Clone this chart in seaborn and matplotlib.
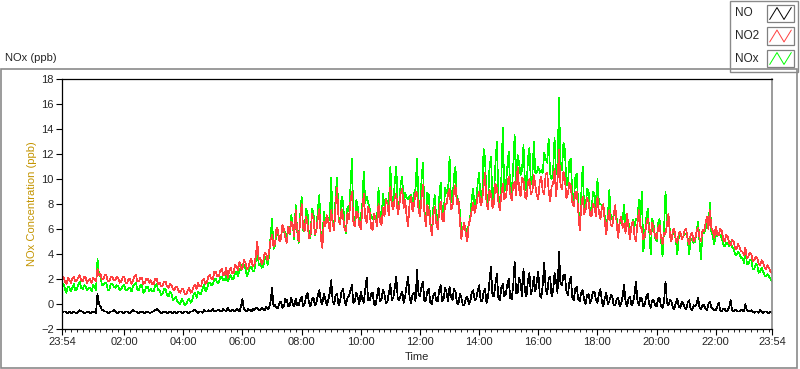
import matplotlib
matplotlib.use('Agg')
import matplotlib.pyplot as plt
import numpy as np
import pandas as pd
import seaborn as sns
from matplotlib.lines import Line2D
from matplotlib.patches import Rectangle

# 3-minute samples, each row = one hour starting 23:54, 00:54, 01:54 ...
no2_ppb = [
    2.0, 2.2, 1.8, 1.6, 2.1, 1.9, 1.7, 2.0, 2.2, 1.8, 1.9, 2.1, 2.3, 1.9, 1.8, 2.2, 2.1, 1.7, 1.9, 2.0,
    1.7, 2.1, 2.0, 1.8, 2.8, 2.3, 2.4, 2.0, 2.0, 2.3, 2.3, 1.8, 1.8, 2.2, 2.2, 1.9, 1.9, 2.2, 2.1, 1.7,
    1.8, 2.1, 2.2, 1.7, 1.7, 2.0, 2.0, 1.6, 1.9, 2.2, 2.3, 1.8, 1.8, 2.1, 2.1, 1.6, 1.7, 2.0, 2.0, 1.7,
    1.9, 1.6, 1.6, 2.0, 2.0, 1.6, 1.7, 1.4, 1.5, 1.8, 1.8, 1.4, 1.3, 1.6, 1.5, 1.2, 1.1, 1.4, 1.3, 1.0,
    0.9, 1.2, 1.2, 0.8, 0.8, 1.1, 1.3, 0.9, 1.0, 1.4, 1.5, 1.2, 1.7, 1.4, 1.4, 1.9, 2.0, 1.6, 1.8, 2.2,
    2.3, 2.0, 2.0, 2.6, 2.6, 2.2, 2.2, 2.7, 2.8, 2.3, 2.4, 2.9, 2.1, 2.6, 2.9, 2.5, 2.5, 3.1, 3.0, 2.7,
    3.4, 2.9, 2.8, 3.5, 3.3, 2.8, 2.9, 3.4, 3.6, 3.0, 3.1, 3.8, 5.0, 3.6, 3.7, 3.2, 3.4, 4.1, 4.0, 3.5,
    4.2, 5.1, 5.5, 4.6, 4.8, 6.1, 5.9, 5.0, 5.2, 6.3, 6.0, 5.3, 4.9, 6.2, 5.7, 6.6, 6.3, 5.4, 7.5, 5.9,
    5.0, 6.7, 8.0, 6.1, 5.8, 7.0, 6.4, 5.3, 5.5, 7.2, 6.8, 5.6, 5.9, 6.9, 7.6, 5.2, 4.5, 6.6, 6.2, 7.1,
    6.6, 5.8, 7.5, 6.4, 5.9, 8.0, 9.3, 6.7, 6.4, 7.6, 7.0, 6.0, 5.8, 7.3, 6.8, 8.2, 9.0, 6.5, 6.2, 7.4,
    7.2, 6.3, 6.0, 7.5, 8.8, 6.9, 6.5, 7.8, 7.3, 6.1, 5.9, 7.2, 6.8, 6.2, 8.0, 6.6, 6.3, 7.7, 7.0, 8.3,
    8.0, 7.1, 9.4, 7.9, 7.6, 8.5, 8.8, 7.2, 7.8, 8.9, 9.2, 7.7, 8.3, 7.0, 6.2, 8.1, 8.6, 7.4, 7.9, 9.0,
    8.9, 7.6, 7.0, 8.4, 9.5, 7.3, 6.2, 7.9, 7.5, 6.4, 5.5, 7.0, 7.8, 6.5, 6.0, 7.4, 8.2, 6.8, 6.6, 8.0,
    8.0, 8.8, 9.2, 7.6, 7.8, 9.0, 9.5, 8.0, 8.4, 6.6, 5.2, 6.1, 6.5, 5.6, 5.0, 6.4, 6.8, 7.5, 8.1, 7.3,
    7.8, 8.6, 9.0, 7.9, 8.2, 9.4, 10.5, 8.1, 7.6, 9.1, 8.8, 7.7, 8.0, 9.6, 9.3, 8.2, 7.5, 8.7, 9.6, 8.4,
    8.5, 9.4, 10.2, 8.8, 8.3, 9.5, 9.8, 8.7, 11.0, 9.2, 8.6, 10.1, 9.9, 8.6, 8.4, 9.7, 10.0, 8.8, 9.0, 10.3,
    9.5, 8.7, 8.4, 9.8, 10.2, 9.0, 8.8, 10.4, 10.5, 9.1, 8.2, 9.4, 9.6, 10.8, 8.6, 9.9, 12.3, 9.5, 9.2, 10.6,
    10.0, 8.5, 8.8, 9.7, 9.4, 8.1, 7.8, 8.9, 9.0, 7.4, 5.9, 7.8, 8.6, 7.2, 7.5, 8.5, 8.2, 7.1, 7.0, 8.0,
    7.8, 7.0, 8.6, 7.3, 6.8, 7.7, 8.0, 6.5, 5.6, 6.9, 7.5, 6.3, 6.2, 7.2, 7.9, 6.4, 5.3, 6.6, 7.0, 6.1,
    6.4, 5.7, 7.2, 6.1, 5.2, 6.3, 6.6, 5.5, 5.0, 6.4, 7.5, 6.2, 6.0, 5.2, 5.4, 6.3, 6.8, 5.9, 5.6, 6.5,
    6.0, 5.4, 5.2, 6.1, 6.3, 5.3, 4.8, 5.7, 5.6, 6.4, 7.2, 5.5, 5.0, 5.9, 6.0, 5.1, 4.9, 5.6, 5.8, 5.2,
    5.4, 5.9, 6.0, 5.1, 4.8, 5.5, 5.7, 5.0, 5.2, 5.8, 6.1, 5.3, 5.0, 5.9, 5.8, 6.4, 7.0, 6.0, 7.5, 6.1,
    5.8, 5.3, 6.2, 5.6, 5.5, 6.0, 5.9, 5.2, 5.0, 5.5, 5.4, 4.9, 4.7, 5.1, 5.0, 4.5, 4.4, 4.8, 4.6, 4.2,
    4.2, 3.9, 4.5, 3.7, 3.8, 4.1, 4.0, 3.4, 3.5, 3.8, 3.7, 3.2, 3.1, 3.5, 3.3, 2.9, 2.8, 3.1, 2.9, 2.6,
    2.5,
]

no_ppb = [
    -0.7, -0.6, -0.6, -0.7, -0.7, -0.6, -0.7, -0.7, -0.6, -0.7, -0.7, -0.6, -0.5, -0.6, -0.6, -0.7, -0.7, -0.6, -0.6, -0.7,
    -0.7, -0.6, -0.6, -0.7, 0.8, 0.0, -0.2, -0.5, -0.5, -0.6, -0.6, -0.7, -0.7, -0.6, -0.6, -0.5, -0.6, -0.7, -0.7, -0.6,
    -0.6, -0.7, -0.7, -0.6, -0.6, -0.7, -0.7, -0.6, -0.5, -0.6, -0.6, -0.7, -0.7, -0.6, -0.6, -0.7, -0.7, -0.6, -0.6, -0.7,
    -0.7, -0.6, -0.6, -0.5, -0.4, -0.5, -0.6, -0.7, -0.7, -0.6, -0.6, -0.7, -0.7, -0.6, -0.7, -0.7, -0.6, -0.7, -0.7, -0.6,
    -0.6, -0.7, -0.7, -0.6, -0.6, -0.7, -0.7, -0.6, -0.6, -0.5, -0.5, -0.6, -0.7, -0.6, -0.6, -0.7, -0.5, -0.6, -0.6, -0.5,
    -0.6, -0.5, -0.4, -0.6, -0.6, -0.5, -0.5, -0.6, -0.6, -0.4, -0.5, -0.6, -0.3, -0.5, -0.6, -0.5, -0.5, -0.6, -0.4, -0.5,
    -0.6, -0.2, 0.4, -0.4, -0.5, -0.6, -0.4, -0.5, -0.6, -0.4, -0.5, -0.3, -0.3, -0.5, -0.5, -0.3, -0.4, -0.5, -0.2, -0.4,
    -0.3, 0.2, 1.3, -0.2, -0.1, -0.3, -0.3, 0.1, 0.2, -0.3, -0.2, 0.4, 0.3, -0.2, -0.1, 0.5, 0.0, -0.2, 0.4, -0.1,
    -0.1, 0.3, 0.6, -0.2, 0.0, 0.6, 0.9, 0.1, -0.2, 0.4, 0.5, -0.1, 0.1, 0.7, 1.1, 0.2, 0.0, 0.8, 0.4, -0.1,
    0.3, 0.9, 1.9, 0.2, 0.0, 0.7, 0.8, -0.1, 0.2, 1.0, 1.2, 0.3, -0.1, 0.5, 0.6, 1.1, 1.5, 0.1, 0.2, 0.9,
    0.5, 0.0, 1.0, 0.4, 0.1, 1.2, 2.1, 0.3, 0.3, 0.8, 0.9, 0.0, -0.1, 0.6, 1.3, 0.2, 0.4, 1.1, 0.8, 0.1,
    0.2, 0.9, 1.6, 0.3, 0.5, 1.3, 2.2, 0.4, 0.3, 0.7, 1.0, 0.1, 0.6, 1.5, 2.2, 0.5, 0.1, 0.8, 0.9, 0.2,
    2.7, 0.8, 0.6, 1.4, 1.8, 0.2, 0.3, 1.0, 1.2, 0.1, 0.0, 0.7, 0.9, 0.3, 0.2, 1.1, 1.5, 0.2, 0.4, 1.3,
    0.9, 0.2, 1.4, 0.6, 0.3, 1.2, 1.0, 0.1, 0.0, 0.8, 0.5, -0.1, -0.1, 0.4, 0.6, 0.0, 0.2, 0.9, 1.1, 0.3,
    0.4, 1.0, 1.5, 0.3, 0.2, 0.9, 1.2, 0.1, 0.5, 1.8, 3.0, 0.7, 0.6, 1.6, 2.4, 0.5, 0.3, 1.3, 1.6, 0.6,
    0.8, 1.5, 2.0, 0.5, 0.4, 1.4, 3.4, 0.9, 0.9, 2.1, 1.7, 0.6, 2.8, 1.0, 0.6, 1.9, 2.5, 0.8, 1.2, 2.2,
    1.0, 1.8, 2.6, 0.7, 0.5, 1.5, 3.3, 1.2, 0.8, 2.0, 2.2, 0.6, 1.0, 2.5, 1.8, 0.9, 4.2, 1.6, 1.5, 2.3,
    2.3, 1.0, 0.7, 1.7, 2.2, 0.5, 0.3, 1.2, 1.4, 0.4, 0.2, 0.9, 1.1, 0.3, 0.0, 0.7, 0.8, 0.1, 0.4, 1.0,
    1.0, 0.3, 0.1, 0.8, 1.2, 0.2, -0.2, 0.5, 0.9, 0.0, 0.2, 0.7, 0.6, -0.1, -0.1, 0.4, 0.5, -0.2, 0.0, 0.6,
    1.5, 0.2, -0.2, 0.4, 0.6, -0.1, 0.1, 0.7, 1.8, 0.3, -0.1, 0.5, 0.4, -0.2, 0.0, 0.6, 0.8, 0.0, -0.3, 0.3,
    0.3, -0.1, -0.2, 0.4, 0.5, -0.2, -0.3, 0.2, 1.8, 0.1, -0.1, 0.3, 0.2, -0.3, -0.4, 0.1, 0.4, -0.2, -0.3, 0.2,
    0.0, -0.3, -0.4, 0.1, 0.3, -0.4, -0.5, -0.1, -0.2, 0.0, 0.5, -0.3, -0.4, -0.1, -0.1, -0.4, -0.5, 0.0, 0.2, -0.3,
    -0.4, -0.5, -0.5, -0.2, 0.1, -0.5, -0.6, -0.4, -0.4, -0.6, -0.5, -0.3, 0.3, -0.5, -0.6, -0.5, -0.5, -0.6, -0.6, -0.5,
    -0.5, -0.6, 0.0, -0.5, -0.6, -0.6, -0.5, -0.6, -0.7, -0.6, -0.6, -0.7, -0.5, -0.6, -0.7, -0.6, -0.6, -0.7, -0.7, -0.6,
    -0.7,
]

nox_ppb = [
    1.3, 1.6, 1.2, 0.9, 1.4, 1.3, 1.0, 1.3, 1.6, 1.1, 1.2, 1.5, 1.8, 1.3, 1.2, 1.5, 1.4, 1.1, 1.3, 1.3,
    1.0, 1.5, 1.4, 1.1, 3.6, 2.3, 2.2, 1.5, 1.5, 1.7, 1.7, 1.1, 1.1, 1.6, 1.6, 1.4, 1.3, 1.5, 1.4, 1.1,
    1.2, 1.4, 1.5, 1.1, 1.1, 1.3, 1.3, 1.0, 1.4, 1.6, 1.7, 1.1, 1.1, 1.5, 1.5, 0.9, 1.0, 1.4, 1.4, 1.0,
    1.2, 1.0, 1.0, 1.5, 1.6, 1.1, 1.1, 0.7, 0.8, 1.2, 1.2, 0.7, 0.6, 1.0, 0.8, 0.3, 0.4, 0.6, 0.2, 0.1,
    0.0, 0.4, 0.2, -0.1, 0.0, 0.3, 0.4, 0.1, 0.3, 0.8, 0.9, 0.5, 1.0, 0.8, 0.8, 1.2, 1.5, 1.0, 1.2, 1.7,
    1.7, 1.5, 1.6, 2.0, 2.0, 1.7, 1.7, 2.1, 2.2, 1.9, 1.9, 2.3, 1.8, 2.1, 2.3, 2.0, 2.0, 2.5, 2.6, 2.2,
    2.8, 2.7, 3.2, 3.1, 2.8, 2.2, 2.5, 2.9, 3.0, 2.6, 2.6, 3.5, 4.7, 3.1, 3.2, 2.9, 3.0, 3.6, 3.8, 3.1,
    3.9, 5.3, 6.8, 4.4, 4.7, 5.8, 5.6, 5.1, 5.4, 6.0, 5.8, 5.7, 5.2, 6.0, 5.6, 7.1, 6.3, 5.2, 7.9, 5.8,
    4.9, 7.0, 8.6, 5.9, 5.8, 7.6, 7.3, 5.4, 5.3, 7.6, 7.3, 5.5, 6.0, 7.6, 8.7, 5.4, 4.5, 7.4, 6.6, 7.0,
    6.9, 6.7, 10.1, 6.6, 5.9, 8.7, 10.1, 6.6, 6.6, 8.6, 8.2, 6.3, 5.7, 7.8, 7.4, 9.3, 11.6, 6.6, 6.4, 8.3,
    7.7, 6.3, 7.0, 7.9, 10.6, 8.1, 8.6, 8.1, 7.6, 6.9, 6.8, 7.2, 6.7, 6.8, 9.3, 6.8, 6.7, 8.8, 7.8, 8.4,
    8.2, 8.0, 11.0, 8.2, 8.1, 9.8, 11.0, 7.6, 8.1, 9.6, 10.2, 7.8, 8.9, 8.5, 8.4, 8.6, 8.7, 8.2, 8.8, 9.2,
    11.6, 8.4, 7.6, 9.8, 11.3, 7.5, 6.5, 8.9, 8.7, 6.5, 5.5, 7.7, 8.7, 6.8, 6.2, 8.5, 9.7, 7.0, 7.0, 9.3,
    8.9, 9.0, 11.8, 8.2, 8.1, 10.2, 11.0, 8.1, 8.4, 7.4, 5.7, 6.0, 6.4, 6.0, 5.6, 6.4, 7.0, 8.4, 9.2, 7.6,
    8.2, 9.6, 10.5, 8.2, 8.4, 12.4, 11.7, 8.2, 8.1, 10.9, 11.8, 8.4, 8.6, 11.2, 13.0, 8.7, 7.8, 10.0, 14.1, 9.0,
    9.3, 10.9, 12.2, 9.3, 8.7, 10.9, 13.5, 9.6, 11.9, 11.3, 10.3, 10.7, 12.7, 9.6, 9.0, 11.6, 12.5, 9.6, 10.2, 13.0,
    10.5, 10.5, 11.0, 10.5, 10.7, 10.5, 12.1, 11.6, 11.3, 13.2, 10.4, 10.0, 10.6, 13.3, 10.4, 10.8, 16.5, 11.1, 10.7, 12.9,
    12.3, 9.5, 9.5, 11.4, 11.6, 8.6, 8.1, 10.1, 10.4, 7.8, 6.1, 8.7, 11.0, 7.5, 7.5, 9.2, 9.0, 7.2, 7.4, 9.0,
    8.8, 7.3, 10.0, 8.1, 8.0, 7.9, 7.8, 7.0, 6.5, 6.9, 9.1, 7.0, 6.8, 7.1, 7.8, 6.8, 5.8, 6.4, 7.0, 6.7,
    7.9, 5.9, 7.0, 6.5, 5.8, 6.2, 6.7, 6.2, 6.8, 6.7, 8.3, 6.7, 9.0, 4.2, 5.4, 6.9, 7.6, 5.9, 4.0, 6.8,
    6.3, 5.3, 5.0, 6.5, 6.8, 5.1, 3.8, 5.9, 9.0, 6.5, 7.1, 5.8, 5.2, 5.6, 5.6, 5.2, 4.0, 5.4, 5.5, 5.4,
    5.4, 5.6, 5.6, 5.2, 4.0, 5.1, 5.2, 4.9, 5.0, 5.8, 6.6, 5.0, 3.6, 5.8, 5.7, 6.0, 6.5, 6.0, 8.1, 5.8,
    5.4, 4.8, 5.7, 5.4, 5.6, 5.5, 5.3, 4.8, 4.6, 4.9, 4.9, 4.6, 5.0, 4.6, 4.4, 4.0, 3.9, 4.2, 4.0, 3.7,
    3.7, 3.3, 4.5, 3.2, 3.2, 3.5, 3.5, 2.8, 2.8, 3.2, 3.1, 2.5, 2.6, 2.9, 2.6, 2.3, 2.2, 2.4, 2.2, 2.0,
    1.8,
]

series_names = ['NO', 'NO2', 'NOx']
series_colors = ['black', '#ff4040', '#00ff00']
tick_minutes = [0, 126, 246, 366, 486, 606, 726, 846, 966, 1086, 1206, 1326, 1440]
tick_labels = ['23:54', '02:00', '04:00', '06:00', '08:00', '10:00', '12:00',
               '14:00', '16:00', '18:00', '20:00', '22:00', '23:54']

minutes = np.arange(len(no2_ppb)) * 3
df = pd.DataFrame({'minutes': minutes, 'NO': no_ppb, 'NO2': no2_ppb, 'NOx': nox_ppb})

sns.set_style('white')
plt.rcParams['font.family'] = ['Liberation Sans', 'DejaVu Sans']

fig = plt.figure(figsize=(8, 3.69), dpi=100)
ax = fig.add_axes([62 / 800, 40 / 369, 710 / 800, 250 / 369])

# green under red under black, drawn as hard 1-px lines like the original panel
sns.lineplot(data=df, x='minutes', y='NOx', color=series_colors[2], lw=0.5, antialiased=False, ax=ax)
sns.lineplot(data=df, x='minutes', y='NO2', color=series_colors[1], lw=0.5, antialiased=False, ax=ax)
sns.lineplot(data=df, x='minutes', y='NO', color=series_colors[0], lw=0.5, antialiased=False, ax=ax)

ax.set_xlim(0, 1440)
ax.set_ylim(-2, 18)
ax.set_yticks(range(-2, 19, 2))
ax.set_xticks(tick_minutes)
ax.set_xticklabels(tick_labels)
ax.set_xticks(range(6, 1440, 12), minor=True)
ax.tick_params(axis='both', which='major', direction='out', length=4, width=0.8,
               labelsize=8, color='black', pad=2, bottom=True, left=True)
ax.tick_params(axis='x', which='minor', direction='out', length=2.5, width=0.6,
               color='black', bottom=True)
ax.set_xlabel('Time', fontsize=8, labelpad=3)
ax.set_ylabel('NOx Concentration (ppb)', fontsize=8, color='#c39400', labelpad=3)
for side in ['left', 'bottom', 'top']:
    ax.spines[side].set_color('black')
    ax.spines[side].set_linewidth(0.9)
ax.spines['right'].set_color('#8a8a8a')
ax.spines['right'].set_linewidth(1.2)

# outer frame and caption of the graph panel
fig.add_artist(Rectangle((1 / 800, 1 / 369), 796 / 800, 299 / 369, transform=fig.transFigure,
                         fill=False, edgecolor='#8a8a8a', lw=1.2))
fig.text(5 / 800, 1 - 58 / 369, 'NOx (ppb)', fontsize=8, va='center', ha='left')

# plot legend box at the top right: label, then a framed zigzag icon
fig.add_artist(Rectangle((730 / 800, 1 - 72 / 369), 68 / 800, 71 / 369, transform=fig.transFigure,
                         fill=False, edgecolor='#8a8a8a', lw=1.0))
zig_x = np.array([0.1, 0.37, 0.63, 0.9])
zig_y = np.array([0.15, 0.85, 0.15, 0.85])
for i, (name, col) in enumerate(zip(series_names, series_colors)):
    top = 5 + i * 22.5
    fig.text(735 / 800, 1 - (top + 8.5) / 369, name, fontsize=8.5, va='center', ha='left')
    fig.add_artist(Rectangle((767 / 800, 1 - (top + 17) / 369), 27 / 800, 17 / 369,
                             transform=fig.transFigure, fill=False, edgecolor='#808080', lw=0.9))
    fig.add_artist(Line2D((767 + zig_x * 27) / 800, 1 - (top + 17 - zig_y * 17) / 369,
                          color=col, lw=0.7, transform=fig.transFigure))

fig.savefig('out.png', dpi=100)
